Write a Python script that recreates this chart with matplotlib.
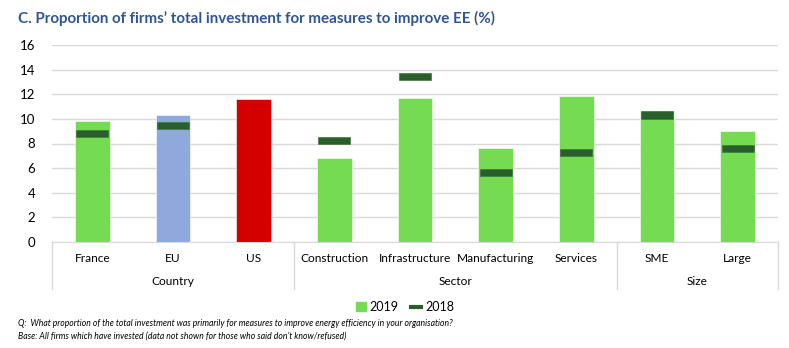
import numpy as np
import matplotlib.pyplot as plt
from matplotlib.patches import Patch
from matplotlib.lines import Line2D

plt.rcParams['font.family'] = ['Lato', 'DejaVu Sans']

categories = ["France", "EU", "US", "Construction", "Infrastructure",
              "Manufacturing", "Services", "SME", "Large"]
groups = ["Country", "Sector", "Size"]
group_sizes = [3, 4, 2]
values_2019 = [9.8, 10.3, 11.6, 6.85, 11.7, 7.6, 11.85, 10.6, 9.05]
values_2018 = [8.8, 9.45, np.nan, 8.25, 13.45, 5.65, 7.25, 10.3, 7.6]
bar_colors = ["#75DB52", "#8EA9DB", "#D40000", "#75DB52", "#75DB52",
              "#75DB52", "#75DB52", "#75DB52", "#75DB52"]

fig = plt.figure(figsize=(7.89, 3.48), dpi=100)
ax = fig.add_axes([52/789, 106/348, 726/789, 197/348])

x = np.arange(len(categories))
ax.bar(x, values_2019, width=0.43, color=bar_colors, edgecolor="#ffffff",
       linewidth=0.4, zorder=2)
v18 = np.array(values_2018)
mask = ~np.isnan(v18)
ax.bar(x[mask], 0.6, bottom=v18[mask] - 0.3, width=0.4, color="#2A5E2A",
       edgecolor="#3d7a3d", linewidth=0.5, zorder=3)

ax.set_xlim(-0.5, len(categories) - 0.5)
ax.set_ylim(0, 16)
ax.set_yticks(range(0, 17, 2))
ax.yaxis.grid(True, color="#D9D9D9", linewidth=1.0, zorder=0)
ax.set_axisbelow(True)
for s in ["top", "right", "left"]:
    ax.spines[s].set_visible(False)
ax.spines["bottom"].set_color("#D9D9D9")
ax.tick_params(axis="y", length=0, pad=12, labelsize=9.5)
ax.set_xticks(x)
ax.set_xticklabels(categories, fontsize=8.6)
ax.tick_params(axis="x", length=0, pad=8)

# group separators and labels
trans = ax.get_xaxis_transform()
edges = np.concatenate([[0], np.cumsum(group_sizes)]) - 0.5
for e in edges:
    ax.plot([e, e], [0, -0.24], transform=trans, color="#D9D9D9",
            linewidth=1.0, clip_on=False)
for i, g in enumerate(groups):
    mid = (edges[i] + edges[i + 1]) / 2
    ax.text(mid, -0.2, g, transform=trans, ha="center", va="center",
            fontsize=8.6)

fig.text(18/789, 1 - 18/348, "C. Proportion of firms’ total investment for measures to improve EE (%)",
         color="#2F5597", fontsize=10.9, fontweight="bold", va="center")

handles = [Patch(color="#75DB52"), Line2D([0], [0], color="#2A5E2A", linewidth=3)]
fig.legend(handles, ["2019", "2018"], loc="center", bbox_to_anchor=(405/789, 1 - 307/348),
           ncol=2, frameon=False, fontsize=9, handlelength=0.8, handletextpad=0.3,
           columnspacing=1.0)

fig.text(18/789, 1 - 324/348,
         "Q:  What proportion of the total investment was primarily for measures to improve energy efficiency in your organisation?",
         fontsize=6.2, style="italic", va="center")
fig.text(18/789, 1 - 336/348,
         "Base: All firms which have invested (data not shown for those who said don’t know/refused)",
         fontsize=6.2, style="italic", va="center")

fig.savefig("out.png", dpi=100)
